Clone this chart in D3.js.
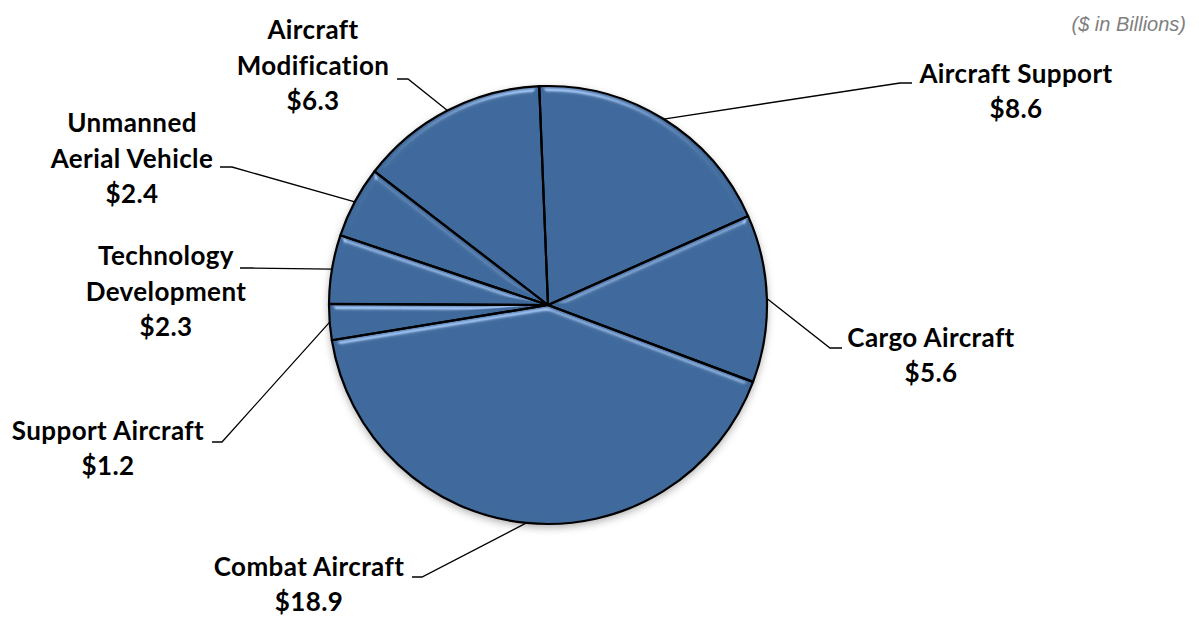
<!DOCTYPE html>
<html>
<head>
<meta charset="utf-8">
<script src="https://cdn.jsdelivr.net/npm/d3@7/dist/d3.min.js"></script>
<style>
  html, body { margin: 0; padding: 0; background: #ffffff; }
  svg { display: block; }
</style>
</head>
<body>
<script>
// Aircraft procurement funding by program category ($ in billions)
const categories = [
  "Aircraft Support",
  "Cargo Aircraft",
  "Combat Aircraft",
  "Support Aircraft",
  "Technology Development",
  "Unmanned Aerial Vehicle",
  "Aircraft Modification"
];
const values = [8.6, 5.6, 18.9, 1.2, 2.3, 2.4, 6.3];
const unitsNote = "($ in Billions)";

// Label placement: text anchor (centre x, first baseline y), leader elbow and
// leader end point, and whether the first word sits on its own line.
const labelLayout = [
  { x: 1016, y: 83,  elbow: [900, 83],  end: [912, 83],  wrap: false },
  { x: 931,  y: 347, elbow: [830, 348], end: [842, 348], wrap: false },
  { x: 309,  y: 576, elbow: [422, 577], end: [412, 577], wrap: false },
  { x: 108,  y: 440, elbow: [222, 442], end: [212, 442], wrap: false },
  { x: 166,  y: 265, elbow: [252, 268], end: [240, 268], wrap: true },
  { x: 132,  y: 132, elbow: [232, 167], end: [220, 167], wrap: true },
  { x: 313,  y: 39,  elbow: [408, 79],  end: [397, 79],  wrap: true }
];

const W = 1199, H = 618;
const cx = 548, cy = 305, R = 219;
const lineGap = 36;
const valueGap = 35;
const sliceColor = "#3f6a9c";

const svg = d3.select("body").append("svg")
  .attr("width", W).attr("height", H);

const defs = svg.append("defs");

// soft shadow under the whole pie
const shadow = defs.append("filter").attr("id", "pieShadow")
  .attr("x", "-20%").attr("y", "-20%").attr("width", "140%").attr("height", "140%");
shadow.append("feDropShadow")
  .attr("dx", 0).attr("dy", 3).attr("stdDeviation", 4)
  .attr("flood-color", "#000").attr("flood-opacity", 0.35);

// bevel highlight on each slice, lit from above
const bevel = defs.append("filter").attr("id", "bevel")
  .attr("x", "-10%").attr("y", "-10%").attr("width", "120%").attr("height", "120%");
bevel.append("feGaussianBlur").attr("in", "SourceAlpha").attr("stdDeviation", 3).attr("result", "blur");
bevel.append("feSpecularLighting")
  .attr("in", "blur").attr("surfaceScale", 4)
  .attr("specularConstant", 0.8).attr("specularExponent", 40)
  .attr("lighting-color", "#b8d4f5").attr("result", "spec")
  .append("feDistantLight").attr("azimuth", 270).attr("elevation", 35);
bevel.append("feComposite").attr("in", "spec").attr("in2", "SourceAlpha")
  .attr("operator", "in").attr("result", "specIn");
bevel.append("feComposite").attr("in", "SourceGraphic").attr("in2", "specIn")
  .attr("operator", "arithmetic").attr("k1", 0).attr("k2", 1).attr("k3", 0.75).attr("k4", 0);

const data = categories.map((c, i) => ({ name: c, value: values[i], layout: labelLayout[i] }));

const startDeg = -2.3;
const pie = d3.pie()
  .sort(null)
  .value(d => d.value)
  .startAngle(startDeg * Math.PI / 180)
  .endAngle((startDeg + 360) * Math.PI / 180);

const arcs = pie(data);
const arc = d3.arc().innerRadius(0).outerRadius(R);

const g = svg.append("g").attr("transform", `translate(${cx},${cy})`);

// shadow disc
g.append("circle").attr("r", R).attr("fill", sliceColor).attr("filter", "url(#pieShadow)");

// slice fills with bevel
g.selectAll("path.slice")
  .data(arcs)
  .join("path")
  .attr("class", "slice")
  .attr("d", arc)
  .attr("fill", sliceColor)
  .attr("filter", "url(#bevel)");

// slice outlines
g.selectAll("path.outline")
  .data(arcs)
  .join("path")
  .attr("class", "outline")
  .attr("d", arc)
  .attr("fill", "none")
  .attr("stroke", "#000")
  .attr("stroke-width", 2.2)
  .attr("stroke-linejoin", "round");

// leader lines from each slice's mid-angle on the rim
const leaders = svg.append("g");
arcs.forEach(a => {
  const mid = (a.startAngle + a.endAngle) / 2;
  const p0 = [cx + R * Math.sin(mid), cy - R * Math.cos(mid)];
  const L = a.data.layout;
  leaders.append("path")
    .attr("d", d3.line()([p0, L.elbow, L.end]))
    .attr("fill", "none")
    .attr("stroke", "#000")
    .attr("stroke-width", 1.3);
});

// labels: category name (optionally wrapped) with the value underneath
const fmt = d3.format(".1f");
const labels = svg.append("g")
  .attr("font-family", "Lato, 'Open Sans', sans-serif")
  .attr("font-weight", "bold")
  .attr("font-size", 26)
  .attr("letter-spacing", 0.4)
  .attr("fill", "#000")
  .attr("text-anchor", "middle");

arcs.forEach(a => {
  const L = a.data.layout;
  const words = a.data.name.split(" ");
  const lines = L.wrap ? [words[0], words.slice(1).join(" ")] : [a.data.name];
  const t = labels.append("text").attr("x", L.x).attr("y", L.y);
  lines.forEach((ln, i) => {
    t.append("tspan").attr("x", L.x).attr("y", L.y + i * lineGap).text(ln);
  });
  t.append("tspan")
    .attr("x", L.x)
    .attr("y", L.y + (lines.length - 1) * lineGap + valueGap)
    .text("$" + fmt(a.data.value));
});

// units note
svg.append("text")
  .attr("x", 1186).attr("y", 31)
  .attr("text-anchor", "end")
  .attr("font-family", "Arial, 'Liberation Sans', sans-serif")
  .attr("font-style", "italic")
  .attr("font-size", 20)
  .attr("fill", "#7f7f7f")
  .text(unitsNote);
</script>
</body>
</html>
